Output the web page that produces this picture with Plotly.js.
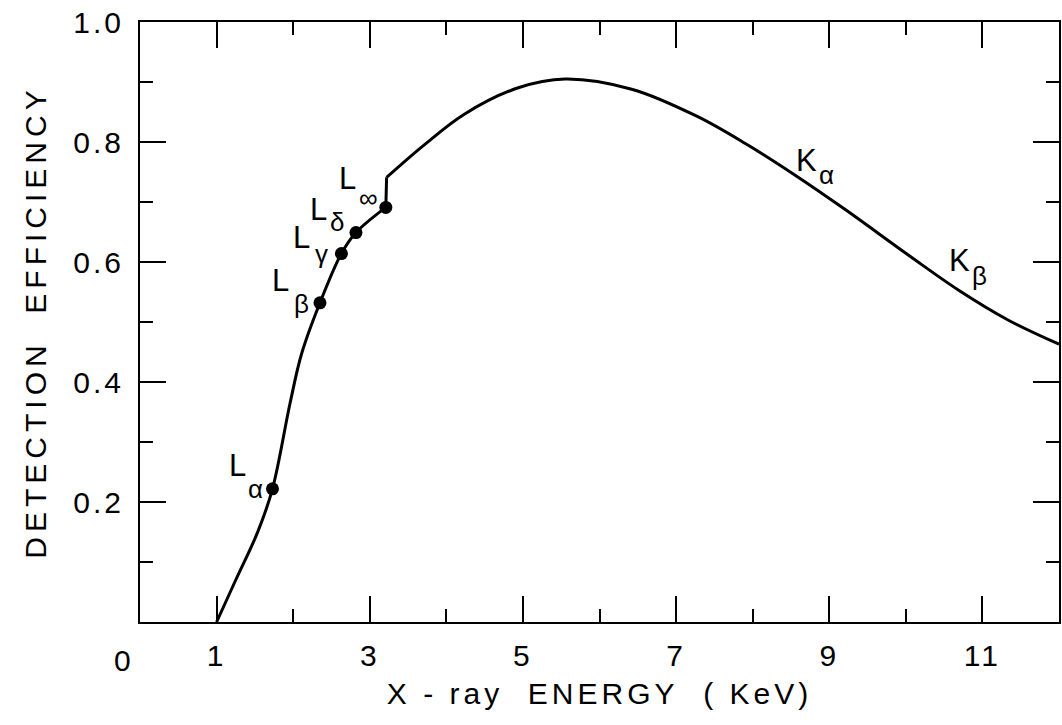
<!DOCTYPE html>
<html>
<head>
<meta charset="utf-8">
<script src="https://cdn.plot.ly/plotly-3.0.1.min.js"></script>
<style>
  body { margin: 0; background: #fff; overflow: hidden; }
  /* the scanned lettering is spaced out a lot wider than the font */
  .xtitle { letter-spacing: 4px; }
  .ytitle { letter-spacing: 5px; }
  .xtick text, .ytick text { letter-spacing: 3px; }
</style>
</head>
<body>
<div id="chart"></div>
<script>
// DETECTION EFFICIENCY vs X-RAY ENERGY

// curve below the L-edge (ends at the L-infinity point)
const lowerEnergy = [1.00, 1.25, 1.54, 1.73, 1.96, 2.11, 2.35, 2.63, 2.82, 3.21]
const lowerEff = [0.000, 0.070, 0.151, 0.222, 0.365, 0.447, 0.532, 0.614, 0.649, 0.691]

// curve above the edge
const upperEnergy = [3.22, 3.70, 4.23, 4.93, 5.55, 6.42, 7.27, 7.91, 8.55, 9.19, 10.05, 10.69, 11.34, 12.0]
const upperEff = [0.741, 0.794, 0.846, 0.890, 0.905, 0.888, 0.843, 0.797, 0.745, 0.689, 0.610, 0.553, 0.503, 0.463]

// L lines marked with dots
const lLineNames = ['α', 'β', 'γ', 'δ', '∞']
const lLineEnergy = [1.73, 2.35, 2.63, 2.82, 3.21]
const lLineEff = [0.222, 0.532, 0.614, 0.649, 0.691]

// K lines, labels only
const kLineNames = ['α', 'β']
const kLineEnergy = [8.70, 10.70]
const kLineEff = [0.770, 0.602]

// ticks
const xTickVals = [1, 3, 5, 7, 9, 11]
const xMinorVals = [2, 4, 6, 8, 10]
const yTickVals = [0.2, 0.4, 0.6, 0.8, 1.0]
const yTickText = ['0.2', '0.4', '0.6', '0.8', '1.0']
const yMinorVals = [0.1, 0.3, 0.5, 0.7, 0.9]

const FONT = 'Liberation Sans, Arial, sans-serif'
const INK = '#000'

const lineStyle = { color: INK, width: 3, shape: 'spline', smoothing: 1 }

const lower = {
  x: lowerEnergy,
  y: lowerEff,
  mode: 'lines',
  line: lineStyle,
  hoverinfo: 'skip',
}

// the jump at the absorption edge
const edge = {
  x: [lowerEnergy[lowerEnergy.length - 1], upperEnergy[0]],
  y: [lowerEff[lowerEff.length - 1], upperEff[0]],
  mode: 'lines',
  line: { color: INK, width: 3 },
  hoverinfo: 'skip',
}

const upper = {
  x: upperEnergy,
  y: upperEff,
  mode: 'lines',
  line: lineStyle,
  hoverinfo: 'skip',
}

const dots = {
  x: lLineEnergy,
  y: lLineEff,
  mode: 'markers',
  marker: { color: INK, size: 13 },
  hoverinfo: 'skip',
}

// where the letter and its subscript sit next to each dot (px, up is +)
const lLetterShift = [[-35, 23], [-39, 22], [-40, 16], [-37, 23], [-38, 29]]
const lSubShift = [[-17, 0], [-18, -1], [-20, 0], [-19, 11], [-17, 9]]

function label(x, y, text, size, dx, dy) {
  return {
    x,
    y,
    text,
    showarrow: false,
    xanchor: 'center',
    yanchor: 'middle',
    xshift: dx,
    yshift: dy,
    font: { family: FONT, size, color: INK },
  }
}

const annotations = []
for (let i = 0; i < lLineNames.length; i += 1) {
  annotations.push(label(lLineEnergy[i], lLineEff[i], 'L', 31, lLetterShift[i][0], lLetterShift[i][1]))
  annotations.push(label(lLineEnergy[i], lLineEff[i], lLineNames[i], 26, lSubShift[i][0], lSubShift[i][1]))
}
for (let i = 0; i < kLineNames.length; i += 1) {
  annotations.push(label(kLineEnergy[i], kLineEff[i], 'K', 31, 0, 0))
  annotations.push(label(kLineEnergy[i], kLineEff[i], kLineNames[i], 26, 20, -15))
}
// shared origin label
annotations.push(label(0, 0, '0', 30, -18, -38))

const axisCommon = {
  showgrid: false,
  zeroline: false,
  showline: true,
  linecolor: INK,
  linewidth: 2,
  mirror: 'allticks',
  ticks: 'inside',
  tickcolor: INK,
  tickwidth: 2,
  ticklen: 26,
  tickfont: { family: FONT, size: 30, color: INK },
}

const layout = {
  width: 1062,
  height: 725,
  margin: { l: 140, r: 3, t: 22, b: 103 },
  paper_bgcolor: '#fff',
  plot_bgcolor: '#fff',
  showlegend: false,
  xaxis: {
    ...axisCommon,
    range: [0, 12],
    tickmode: 'array',
    tickvals: xTickVals,
    ticklabelstandoff: 6,
    minor: { tickvals: xMinorVals, ticks: 'inside', ticklen: 13, tickwidth: 2, tickcolor: INK },
    title: {
      text: 'X\u00a0-\u00a0ray\u00a0\u00a0ENERGY\u00a0\u00a0(\u00a0KeV)',
      font: { family: FONT, size: 30, color: INK },
      standoff: 12,
    },
  },
  yaxis: {
    ...axisCommon,
    range: [0, 1],
    tickmode: 'array',
    tickvals: yTickVals,
    ticktext: yTickText,
    ticklabelstandoff: 8,
    minor: { tickvals: yMinorVals, ticks: 'inside', ticklen: 13, tickwidth: 2, tickcolor: INK },
    title: {
      text: 'DETECTION\u00a0\u00a0EFFICIENCY',
      font: { family: FONT, size: 30, color: INK },
      standoff: 18,
    },
  },
  annotations,
}

Plotly.newPlot('chart', [lower, edge, upper, dots], layout, { staticPlot: true })
</script>
</body>
</html>
